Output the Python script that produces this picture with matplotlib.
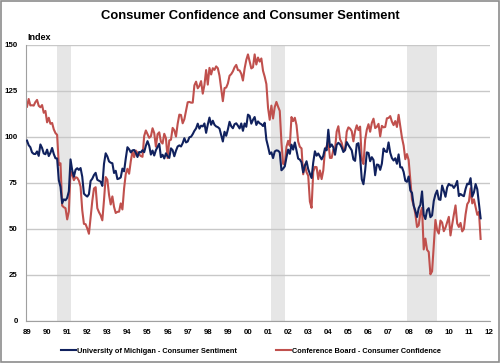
import matplotlib
matplotlib.use("Agg")
import matplotlib.pyplot as plt
from matplotlib.patches import Rectangle
import numpy as np

plt.rcParams['font.family'] = ['Liberation Sans', 'DejaVu Sans']

# monthly values, Jan 1989 - Aug 2011
umich = [
    97.9, 95.4, 94.3, 91.5, 90.7, 90.6, 92.0, 89.6, 95.8, 93.9, 90.9, 90.5,
    93.0, 89.5, 91.3, 93.9, 90.6, 88.3, 88.2, 76.4, 72.8, 63.9, 66.0, 65.5,
    66.8, 70.4, 87.7, 81.8, 78.3, 82.1, 82.9, 82.0, 83.0, 78.3, 69.1, 68.2,
    67.5, 68.8, 76.0, 77.2, 79.2, 80.4, 76.6, 76.1, 75.6, 73.3, 85.3, 91.0,
    89.3, 86.6, 85.9, 85.6, 80.3, 81.5, 77.0, 77.3, 77.9, 82.7, 81.2, 88.2,
    94.3, 93.2, 91.5, 92.6, 92.8, 91.2, 89.0, 91.7, 91.5, 92.7, 91.6, 95.1,
    97.6, 95.1, 90.3, 92.5, 89.8, 92.7, 94.4, 96.2, 88.9, 90.2, 88.2, 91.0,
    89.3, 88.5, 93.7, 92.7, 89.4, 92.4, 94.7, 95.3, 94.7, 96.5, 99.2, 96.9,
    97.4, 99.7, 100.0, 101.4, 103.2, 104.5, 107.1, 104.4, 106.0, 105.6, 107.2, 102.1,
    106.6, 110.4, 106.5, 108.7, 106.5, 105.6, 105.2, 104.4, 100.9, 97.4, 102.7, 100.5,
    103.9, 108.1, 105.7, 104.6, 106.8, 107.3, 106.0, 104.5, 107.2, 103.2, 107.2, 105.4,
    112.0, 111.3, 107.1, 109.2, 110.7, 106.4, 108.3, 107.3, 106.8, 105.8, 107.6, 98.4,
    94.7, 90.6, 91.5, 88.4, 92.0, 92.6, 92.4, 91.5, 81.8, 82.7, 83.9, 88.8,
    93.0, 90.7, 95.7, 93.0, 96.9, 92.4, 88.1, 87.6, 86.1, 80.6, 84.2, 86.7,
    82.4, 79.9, 77.6, 86.0, 92.1, 89.7, 90.9, 89.3, 87.7, 89.6, 93.7, 92.6,
    103.8, 94.4, 95.8, 94.2, 90.2, 95.6, 96.7, 95.9, 94.2, 91.7, 92.8, 97.1,
    95.5, 94.1, 92.6, 87.7, 86.9, 96.0, 96.5, 89.1, 76.9, 74.2, 81.6, 91.5,
    91.2, 86.7, 88.9, 87.4, 79.1, 84.9, 84.7, 82.0, 85.4, 93.6, 92.1, 91.7,
    96.9, 91.3, 88.4, 87.1, 88.3, 85.3, 90.4, 83.4, 83.4, 80.9, 76.1, 75.5,
    78.4, 70.8, 69.5, 62.6, 59.8, 56.4, 61.2, 63.0, 70.3, 57.6, 55.3, 60.1,
    61.2, 56.3, 57.3, 65.1, 68.7, 70.8, 66.0, 65.7, 73.5, 70.6, 67.4, 72.5,
    74.4, 73.6, 73.6, 72.2, 73.6, 76.0, 67.8, 68.9, 68.2, 67.7, 71.6, 74.5,
    74.2, 77.5, 67.5, 69.8, 74.3, 71.5, 63.7, 55.7,
]

conf_board = [
    116.3, 120.5, 117.0, 117.1, 116.9, 118.8, 120.0, 116.8, 116.0, 117.2, 113.0, 114.0,
    107.8, 110.3, 107.0, 107.5, 104.0, 102.0, 101.0, 84.7, 85.6, 62.6, 61.7, 61.2,
    55.1, 59.4, 81.1, 79.4, 76.4, 78.0, 77.7, 76.1, 72.9, 60.1, 52.7, 52.5,
    50.2, 47.3, 56.5, 65.1, 71.9, 72.6, 61.2, 59.0, 57.3, 54.6, 65.6, 78.1,
    76.7, 68.5, 63.2, 67.6, 61.9, 58.6, 59.2, 59.3, 63.8, 60.5, 71.9, 79.8,
    82.6, 79.9, 86.7, 92.1, 88.9, 92.5, 91.3, 90.4, 89.5, 89.1, 100.4, 103.4,
    101.4, 99.4, 100.2, 104.6, 102.0, 94.6, 101.4, 102.4, 97.3, 96.3, 101.6, 99.2,
    88.4, 98.0, 98.4, 104.8, 103.5, 100.1, 107.0, 112.0, 111.8, 107.3, 109.5, 114.2,
    118.7, 118.9, 118.5, 118.5, 127.9, 129.9, 126.3, 127.6, 130.2, 123.4, 128.1, 136.2,
    128.3, 137.4, 133.8, 137.2, 136.3, 138.2, 137.2, 133.1, 126.4, 119.3, 126.4, 126.7,
    128.9, 133.1, 134.0, 135.5, 137.7, 139.0, 136.2, 136.0, 134.2, 130.5, 137.0, 141.7,
    144.7, 140.8, 137.1, 137.7, 144.7, 139.2, 143.0, 140.8, 142.5, 135.8, 132.6, 128.6,
    115.7, 109.2, 116.9, 109.9, 116.1, 118.9, 116.3, 114.0, 97.0, 85.3, 84.9, 94.6,
    97.8, 95.0, 110.7, 108.5, 110.3, 106.3, 97.4, 94.5, 93.7, 79.6, 84.9, 80.7,
    78.8, 64.8, 61.4, 81.0, 83.6, 83.5, 77.0, 81.7, 77.0, 81.7, 92.5, 94.8,
    97.7, 88.5, 88.5, 93.0, 93.1, 102.8, 105.7, 98.7, 96.7, 92.9, 92.6, 102.7,
    105.1, 104.4, 103.0, 97.5, 103.1, 106.2, 103.6, 105.5, 87.5, 85.2, 98.3, 103.8,
    106.8, 102.7, 107.5, 109.8, 104.7, 105.4, 107.0, 100.2, 105.9, 105.1, 105.3, 110.0,
    110.2, 111.2, 108.2, 106.3, 108.5, 105.3, 111.9, 105.6, 99.5, 95.2, 87.8, 90.6,
    87.3, 76.4, 65.9, 62.8, 58.1, 51.0, 51.9, 58.5, 61.4, 38.8, 44.7, 38.6,
    37.4, 25.3, 26.9, 40.8, 54.8, 49.3, 47.4, 54.5, 53.4, 48.7, 50.6, 53.6,
    56.5, 46.4, 52.3, 57.7, 62.7, 52.9, 51.0, 53.2, 48.6, 49.9, 57.8, 63.4,
    64.8, 72.0, 63.8, 66.0, 61.7, 57.6, 59.2, 44.5,
]

# recessions (start, end) in fractional years
recessions = [(1990.5, 1991.17), (2001.17, 2001.83), (2007.92, 2009.42)]

year_ticks = list(range(1989, 2013))
year_labels = ["%02d" % (y % 100) for y in year_ticks]

t = 1989 + np.arange(len(umich)) / 12.0

fig = plt.figure(figsize=(5.0, 3.63), dpi=100)
ax = fig.add_axes([0.052, 0.116, 0.928, 0.761])

for r0, r1 in recessions:
    ax.axvspan(r0, r1, color="#e6e6e6", lw=0, zorder=0)

ax.plot(t, umich, color="#10215e", lw=1.5, zorder=3,
        label="University of Michigan - Consumer Sentiment")
ax.plot(t, conf_board, color="#c0504d", lw=1.5, zorder=2,
        label="Conference Board - Consumer Confidence")

ax.set_xlim(1988.95, 2012.05)
ax.set_ylim(0, 150)
ax.set_yticks(np.arange(0, 151, 25))
ax.set_xticks(year_ticks)
ax.set_xticklabels(year_labels)
ax.yaxis.grid(True, color="#c8c8c8", lw=1.0)
ax.set_axisbelow(True)
for s in ["top", "right"]:
    ax.spines[s].set_visible(False)
for s in ["left", "bottom"]:
    ax.spines[s].set_color("#a0a0a0")
ax.tick_params(axis="both", labelsize=5.7, length=0, pad=6)
for lab in ax.get_xticklabels() + ax.get_yticklabels():
    lab.set_fontweight("bold")

fig.text(0.5, 0.957, "Consumer Confidence and Consumer Sentiment",
         ha="center", va="center", fontsize=9.4, fontweight="bold")
fig.text(0.055, 0.898, "Index", ha="left", va="center",
         fontsize=6.5, fontweight="bold")

ax.legend(loc="center", bbox_to_anchor=(0.485, -0.11), ncol=2,
          frameon=False, prop={"size": 5.3, "weight": "bold"},
          handlelength=2.0, columnspacing=5.3, handletextpad=0.15)

fig.patches.append(Rectangle((0.002, 0.003), 0.995, 0.994, transform=fig.transFigure,
                             fill=False, edgecolor="#8c8c8c", lw=1.2))

fig.savefig("out.png", dpi=100)
